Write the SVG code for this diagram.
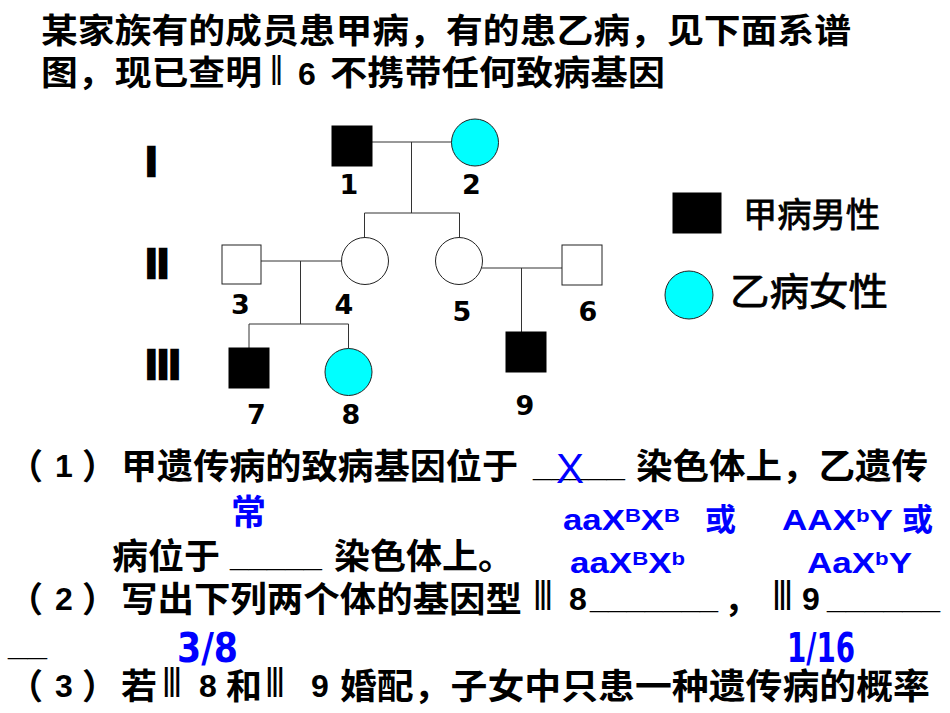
<svg xmlns="http://www.w3.org/2000/svg" width="950" height="713" viewBox="0 0 950 713">
<style>
.cn{font-family:"Noto Sans CJK SC","Noto Sans",sans-serif;font-weight:bold;font-size:35px;fill:#000}
.tt{font-size:34px}
.dg{font-family:"Liberation Sans",Arial,sans-serif;font-weight:bold;font-size:32px;fill:#000}
.rm{font-family:"DejaVu Sans",sans-serif;font-size:40px;fill:#000}
.us{font-family:"Liberation Sans",Arial,sans-serif;font-weight:bold;font-size:35px;fill:#000}
.gen{font-family:"Liberation Sans",Arial,sans-serif;font-weight:bold;font-size:30px;fill:#0000ff}
.sup{font-size:19px}
.bcn{font-family:"Noto Sans CJK SC",sans-serif;font-weight:bold;font-size:31px;fill:#0000ff}
.frac{font-family:"DejaVu Sans",sans-serif;font-weight:bold;font-size:40px;fill:#0000ff}
.lbl{font-family:"DejaVu Sans",sans-serif;font-weight:bold;font-size:27px;fill:#000;text-anchor:middle}
.gen-num{font-family:"Liberation Sans",Arial,sans-serif;font-weight:bold;font-size:42px;fill:#000;stroke:#000;stroke-width:2.5}
.leg{font-family:"Noto Sans CJK SC",sans-serif;fill:#000;stroke:#000;stroke-width:0.8}
.aff{fill:#000;stroke:#000;stroke-width:1}
.cy{fill:#00ffff;stroke:#222;stroke-width:1}
.wh{fill:#fff;stroke:#222;stroke-width:1}
.ln{stroke:#333;stroke-width:1;fill:none}
</style>

<g id="title">
<text class="cn tt" x="41" y="43" textLength="810" lengthAdjust="spacingAndGlyphs">某家族有的成员患甲病，有的患乙病，见下面系谱</text>
<text class="cn tt" x="41" y="85" textLength="221" lengthAdjust="spacingAndGlyphs">图，现已查明</text>
<text class="rm" x="270" y="85" textLength="13" lengthAdjust="spacingAndGlyphs">Ⅱ</text>
<text class="dg" x="298" y="85">6</text>
<text class="cn tt" x="330" y="85" textLength="335" lengthAdjust="spacingAndGlyphs">不携带任何致病基因</text>
</g>

<g id="generations">
<text class="gen-num" x="145.5" y="176">I</text>
<text class="gen-num" x="145.5" y="278">II</text>
<text class="gen-num" x="145.5" y="379">III</text>
</g>

<g id="connectors">
<line class="ln" x1="372" y1="142" x2="452" y2="142"/>
<line class="ln" x1="411.5" y1="142" x2="411.5" y2="213"/>
<line class="ln" x1="364.5" y1="213" x2="459.5" y2="213"/>
<line class="ln" x1="364.5" y1="213" x2="364.5" y2="237.5"/>
<line class="ln" x1="459.5" y1="213" x2="459.5" y2="237.5"/>
<line class="ln" x1="261" y1="261" x2="341.5" y2="261"/>
<line class="ln" x1="300.5" y1="261" x2="300.5" y2="324"/>
<line class="ln" x1="249" y1="324" x2="348.5" y2="324"/>
<line class="ln" x1="249" y1="324" x2="249" y2="348"/>
<line class="ln" x1="348.5" y1="324" x2="348.5" y2="348.5"/>
<line class="ln" x1="481.5" y1="268" x2="562" y2="268"/>
<line class="ln" x1="521.5" y1="268" x2="521.5" y2="332"/>
</g>

<g id="n1"><rect class="aff" x="332" y="126" width="40" height="40"/><text class="lbl" x="349" y="194">1</text></g>
<g id="n2"><circle class="cy" cx="475" cy="142.5" r="23.5"/><text class="lbl" x="471.5" y="194">2</text></g>
<g id="n3"><rect class="wh" x="222" y="245" width="39" height="39"/><text class="lbl" x="240.5" y="314">3</text></g>
<g id="n4"><circle class="wh" cx="365" cy="261" r="23.5"/><text class="lbl" x="344" y="314">4</text></g>
<g id="n5"><circle class="wh" cx="459" cy="261" r="23.5"/><text class="lbl" x="462" y="321">5</text></g>
<g id="n6"><rect class="wh" x="562" y="245" width="40" height="40"/><text class="lbl" x="588" y="321">6</text></g>
<g id="n7"><rect class="aff" x="229" y="348" width="40" height="40"/><text class="lbl" x="256.5" y="424">7</text></g>
<g id="n8"><circle class="cy" cx="348.5" cy="372" r="23.5"/><text class="lbl" x="351" y="424">8</text></g>
<g id="n9"><rect class="aff" x="506" y="332" width="40" height="40"/><text class="lbl" x="525" y="415">9</text></g>

<g id="legend">
<rect class="aff" x="673" y="193" width="48" height="40"/>
<text class="leg" x="743" y="227" font-size="34" textLength="137" lengthAdjust="spacingAndGlyphs">甲病男性</text>
<circle class="cy" cx="689" cy="295" r="24"/>
<text class="leg" x="730" y="305" font-size="38" textLength="158" lengthAdjust="spacingAndGlyphs">乙病女性</text>
</g>

<g id="q1">
<text class="cn" x="8" y="479">（</text>
<text class="dg" x="64" y="477" text-anchor="middle">1</text>
<text class="cn" x="82" y="479">）</text>
<text class="cn" x="121" y="479" textLength="397" lengthAdjust="spacingAndGlyphs">甲遗传病的致病基因位于</text>
<text class="us" x="533" y="476" textLength="92" lengthAdjust="spacingAndGlyphs">_____</text>
<text x="556" y="483" font-family="Liberation Sans, Arial, sans-serif" font-size="42" fill="#0000ff">X</text>
<text class="cn" x="636" y="479" textLength="292" lengthAdjust="spacingAndGlyphs">染色体上，乙遗传</text>
<text class="cn" x="231" y="525" font-size="40" style="fill:#0000ff">常</text>
<text class="cn" x="112" y="569" textLength="108" lengthAdjust="spacingAndGlyphs">病位于</text>
<text class="us" x="230" y="566" textLength="92" lengthAdjust="spacingAndGlyphs">_____</text>
<text class="cn" x="334" y="569" textLength="180" lengthAdjust="spacingAndGlyphs">染色体上。</text>
</g>

<g id="answers1">
<text class="gen" x="563" y="530" textLength="117" lengthAdjust="spacingAndGlyphs">aaX<tspan class="sup" dy="-8">B</tspan><tspan dy="8">X</tspan><tspan class="sup" dy="-8">B</tspan></text>
<text class="bcn" x="705" y="530">或</text>
<text class="gen" x="782" y="530" textLength="111" lengthAdjust="spacingAndGlyphs">AAX<tspan class="sup" dy="-8">b</tspan><tspan dy="8">Y</tspan></text>
<text class="bcn" x="902" y="530">或</text>
<text class="gen" x="570" y="573" textLength="115" lengthAdjust="spacingAndGlyphs">aaX<tspan class="sup" dy="-8">B</tspan><tspan dy="8">X</tspan><tspan class="sup" dy="-8">b</tspan></text>
<text class="gen" x="807" y="573" textLength="105" lengthAdjust="spacingAndGlyphs">AaX<tspan class="sup" dy="-8">b</tspan><tspan dy="8">Y</tspan></text>
</g>

<g id="q2">
<text class="cn" x="8" y="612">（</text>
<text class="dg" x="64" y="610" text-anchor="middle">2</text>
<text class="cn" x="82" y="612">）</text>
<text class="cn" x="121" y="612" textLength="401" lengthAdjust="spacingAndGlyphs">写出下列两个体的基因型</text>
<text class="rm" x="533" y="610" textLength="20" lengthAdjust="spacingAndGlyphs">Ⅲ</text>
<text class="dg" x="569" y="610">8</text>
<text class="us" x="590" y="608" textLength="128" lengthAdjust="spacingAndGlyphs">_______</text>
<text class="cn" x="724" y="612">，</text>
<text class="rm" x="772" y="610" textLength="21" lengthAdjust="spacingAndGlyphs">Ⅲ</text>
<text class="dg" x="802" y="610">9</text>
<text class="us" x="827" y="608" textLength="113" lengthAdjust="spacingAndGlyphs">______</text>
<text class="us" x="8" y="655" textLength="39" lengthAdjust="spacingAndGlyphs">__</text>
</g>

<g id="answers2">
<text class="frac" x="177" y="662" textLength="61" lengthAdjust="spacingAndGlyphs">3/8</text>
<text class="frac" x="787" y="662" textLength="68" lengthAdjust="spacingAndGlyphs">1/16</text>
</g>

<g id="q3">
<text class="cn" x="8" y="699">（</text>
<text class="dg" x="64" y="697" text-anchor="middle">3</text>
<text class="cn" x="82" y="699">）</text>
<text class="cn" x="121" y="699" textLength="36" lengthAdjust="spacingAndGlyphs">若</text>
<text class="rm" x="162" y="697" textLength="20" lengthAdjust="spacingAndGlyphs">Ⅲ</text>
<text class="dg" x="199" y="697">8</text>
<text class="cn" x="226" y="699" textLength="36" lengthAdjust="spacingAndGlyphs">和</text>
<text class="rm" x="265" y="697" textLength="20" lengthAdjust="spacingAndGlyphs">Ⅲ</text>
<text class="dg" x="311" y="697">9</text>
<text class="cn" x="340" y="699" textLength="590" lengthAdjust="spacingAndGlyphs">婚配，子女中只患一种遗传病的概率</text>
</g>
</svg>
